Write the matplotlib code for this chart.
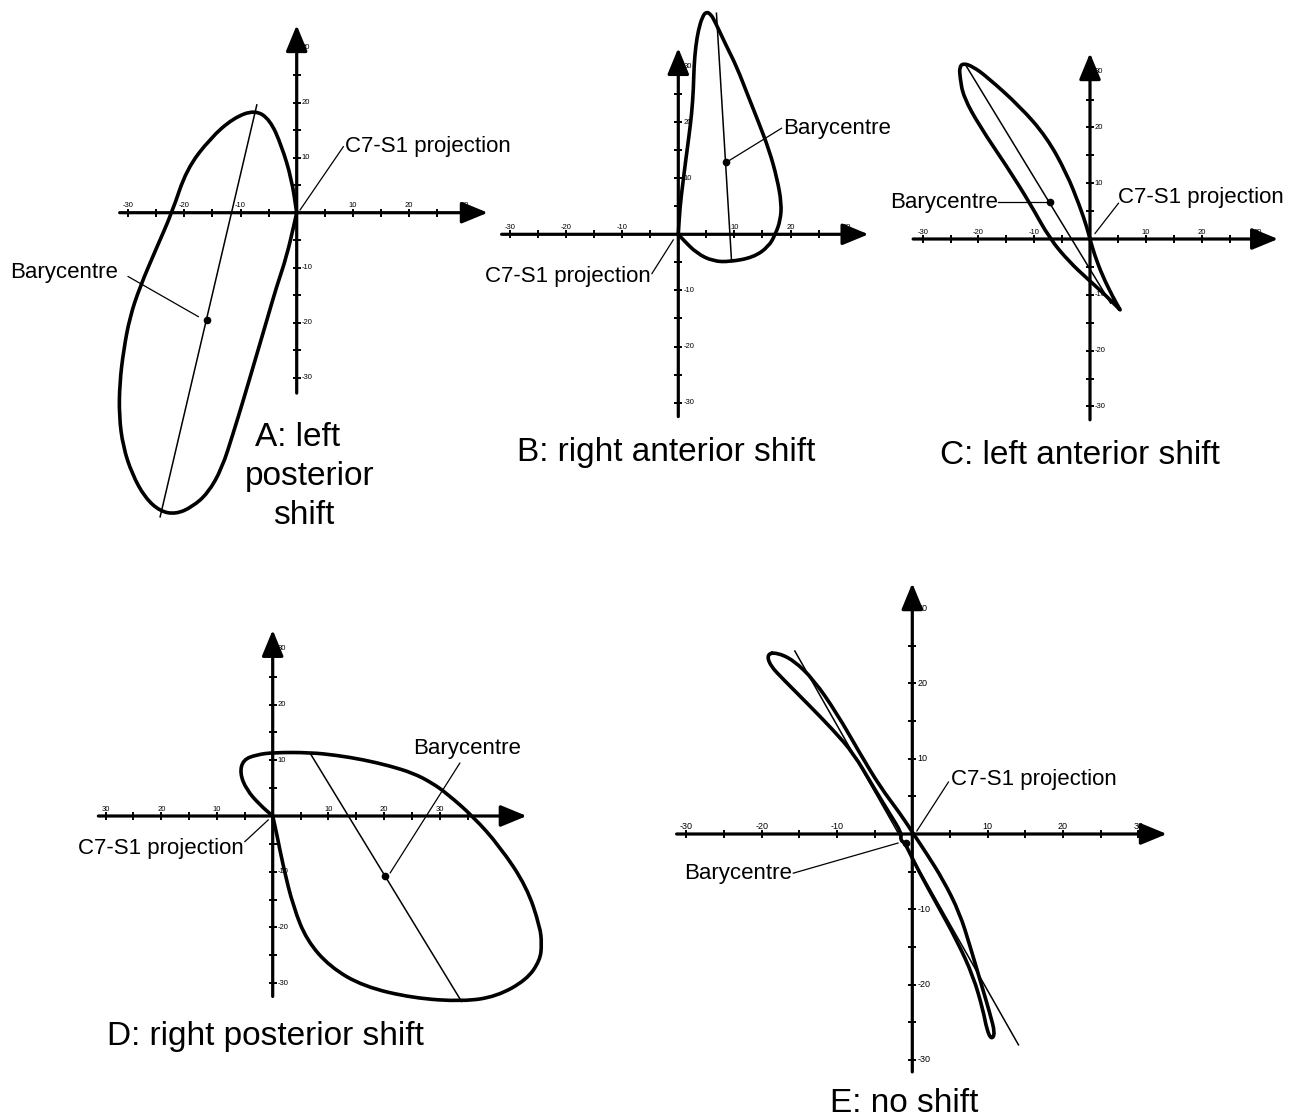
import matplotlib
matplotlib.use("Agg")
import matplotlib.pyplot as plt
from matplotlib.path import Path
from matplotlib.patches import PathPatch

W, H, DPI = 1296, 1118, 100
plt.rcParams['font.family'] = ['Liberation Sans', 'DejaVu Sans']

# ---------------- data (coordinates in the projection plane) ----------------
# Panel A : left posterior shift
A_loop_x = [0, -0.9, -2.7, -4.75, -7.4, -11.3, -15.4, -19.6, -22.2, -24.9, -27.9, -29.7,
            -30.8, -31.5, -31.6, -30.9, -29.3, -27.0, -24.3, -21.5, -18.6, -15.8, -13.3,
            -11.3, -9.5, -7.4, -5.3, -3.6, -1.8, -0.3, 0]
A_loop_y = [0, 6.1, 12.2, 16.9, 18.7, 17.2, 13.5, 7.9, 0, -6.3, -13.5, -19.0,
            -25.0, -31.0, -37.0, -42.5, -47.5, -51.8, -54.3, -54.8, -53.5, -51.0, -46.5,
            -40.1, -34.1, -26.8, -19.5, -13.5, -8.0, -1.4, 0]
A_axis_x = [-7.1, -24.3]
A_axis_y = [19.6, -55.3]
A_bary = (-16.0, -19.5)

# Panel B : right anterior shift
B_loop_x = [0, 0.3, 0.8, 1.3, 1.9, 2.4, 2.7, 2.8, 3.1, 3.6, 4.3, 5.0, 5.8, 6.5, 8.6, 10.4,
            12.5, 14.3, 16.2, 17.6, 18.4, 18.2, 17.3, 16.1, 13.4, 9.2, 6.2, 3.3, 0.9, 0]
B_loop_y = [0, 4.9, 9.0, 13.0, 17.5, 21.6, 26.0, 29.9, 33.5, 36.5, 38.8, 39.7, 39.2, 38.0, 33.5, 29.9,
            24.5, 20.0, 15.0, 10.0, 5.5, 2.5, 0, -2.2, -4.1, -4.9, -4.8, -3.4, -1.0, 0]
B_axis_x = [6.8, 9.5]
B_axis_y = [39.4, -4.9]
B_bary = (8.45, 12.9)

# Panel C : left anterior shift
C_loop_x = [0, -0.6, -1.8, -4.2, -7.8, -12.5, -18.5, -21.0, -22.7, -23.4, -23.3, -22.7, -19.7,
            -14.9, -10.75, -7.2, -3.6, -0.6, 2.5, 5.4, 4.0, 2.2, 0.8, 0]
C_loop_y = [0, 2.2, 5.8, 11.8, 18.3, 23.7, 29.1, 30.9, 31.5, 30.8, 29.0, 25.5, 20.1,
            13.0, 6.4, 0, -4.2, -7.0, -9.8, -12.7, -10.2, -6.5, -2.8, 0]
C_axis_x = [-22.3, 3.7]
C_axis_y = [31.2, -11.5]
C_bary = (-7.1, 6.7)

# Panel D : right posterior shift
D_loop_x = [0, -2.3, -4.7, -5.9, -5.3, -2.9, 0.1, 6.7, 11.5, 16.3, 21.0, 25.2, 28.5, 31.2, 36.0,
            40.8, 45.6, 48.0, 48.3, 48.0, 45.6, 40.2, 34.2, 25.2, 16.3, 10.3, 6.1, 3.7, 1.9, 0.7, 0]
D_loop_y = [0, 2.0, 4.7, 7.7, 10.1, 11.0, 11.4, 11.4, 10.9, 10.1, 9.0, 7.7, 6.0, 4.1, -0.1,
            -5.5, -12.7, -19.9, -23.0, -25.9, -29.4, -32.4, -33.3, -32.7, -30.6, -27.1, -22.3,
            -16.3, -9.1, -3.1, 0]
D_axis_x = [6.7, 33.9]
D_axis_y = [11.3, -33.3]
D_bary = (20.2, -10.8)

# Panel E : no shift
E_loop_x = [-19.3, -18.0, -15.8, -13.1, -10.0, -6.95, -4.3, -1.6, 0.1, 1.9, 4.1, 6.3, 7.7, 9.0,
            10.3, 11.0, 10.5, 9.9, 9.4, 8.1, 5.9, 3.2, 1.0, -0.3, -1.0, -1.6, -1.4, -3.0, -5.2,
            -7.8, -10.5, -14.0, -17.1, -18.9, -19.3]
E_loop_y = [23.9, 24.1, 23.1, 20.5, 16.0, 10.7, 6.3, 2.7, 0.1, -2.6, -6.1, -10.5, -15.0, -19.4,
            -23.8, -26.5, -27.3, -26.0, -23.4, -18.9, -14.1, -9.2, -5.2, -2.6, -1.2, -0.8, 0.1,
            2.7, 6.3, 10.7, 13.8, 17.4, 20.5, 22.4, 23.9]
E_axis_x = [-15.6, 14.1]
E_axis_y = [24.3, -28.0]
E_bary = (-0.8, -1.2)

tick_values = [-30, -25, -20, -15, -10, -5, 5, 10, 15, 20, 25, 30]
label_values = [-30, -20, -10, 10, 20, 30]
label_texts = ['-30', '-20', '-10', '10', '20', '30']
D_xlabel_texts = ['30', '20', '10', '10', '20', '30']

# ---------------- figure ----------------
fig = plt.figure(figsize=(W / DPI, H / DPI), dpi=DPI)
fig.patch.set_facecolor('white')


def make_ax(ox, oy, sx, sy, lim=(-60, 60, -60, 60)):
    x0, x1, y0, y1 = lim
    left = (ox + x0 * sx) / W
    width = (x1 - x0) * sx / W
    bottom = (H - (oy - y0 * sy)) / H
    height = (y1 - y0) * sy / H
    ax = fig.add_axes([left, bottom, width, height])
    ax.set_xlim(x0, x1)
    ax.set_ylim(y0, y1)
    ax.set_axis_off()
    ax.patch.set_alpha(0)
    return ax


def draw_axes(ax, xr, yr, xt, yt, fs, xtexts=None):
    ap = dict(arrowstyle='-|>,head_length=0.8,head_width=0.33', lw=2.3, color='k',
              mutation_scale=20, shrinkA=0, shrinkB=0)
    ax.annotate('', xy=(xr[1], 0), xytext=(xr[0], 0), arrowprops=ap, annotation_clip=False)
    ax.annotate('', xy=(0, yr[1]), xytext=(0, yr[0]), arrowprops=ap, annotation_clip=False)
    ax.plot(xt, [0] * len(xt), ls='none', marker='|', ms=6, mew=1.4, color='k', clip_on=False)
    ax.plot([0] * len(yt), yt, ls='none', marker='_', ms=6, mew=1.4, color='k', clip_on=False)
    xtexts = xtexts or label_texts
    for v, t in zip(label_values, xtexts):
        ax.annotate(t, (v, 0), xytext=(0, 2.5), textcoords='offset points', ha='center',
                    va='bottom', fontsize=fs, annotation_clip=False)
    for v, t in zip(label_values[::-1], label_texts[::-1]):
        ax.annotate(t, (0, v), xytext=(3.5, 0), textcoords='offset points', ha='left',
                    va='center', fontsize=fs, annotation_clip=False)


def smooth_loop(ax, xs, ys, corners=(), lw=2.6):
    """Closed outline drawn with quadratic Bezier segments (rendering only)."""
    pts = list(zip(xs, ys))
    if pts[0] == pts[-1]:
        pts = pts[:-1]
    seq = []
    for i, p in enumerate(pts):
        seq.append(p)
        if i in corners:
            seq.append(p)
    n = len(seq)
    mid = [((seq[i][0] + seq[(i + 1) % n][0]) / 2, (seq[i][1] + seq[(i + 1) % n][1]) / 2)
           for i in range(n)]
    verts = [mid[0]]
    codes = [Path.MOVETO]
    for i in range(1, n + 1):
        verts += [seq[i % n], mid[i % n]]
        codes += [Path.CURVE3, Path.CURVE3]
    ax.add_patch(PathPatch(Path(verts, codes), fill=False, lw=lw, ec='k',
                           joinstyle='round', capstyle='round', clip_on=False))


def draw_panel(ax, lx, ly, axx, axy, bary, corners=()):
    smooth_loop(ax, lx, ly, corners)
    ax.plot(axx, axy, color='k', lw=1.1, clip_on=False)
    ax.plot([bary[0]], [bary[1]], 'o', color='k', ms=4.5, clip_on=False)


def label(ax, x, y, s, ha='left'):
    ax.text(x, y, s, ha=ha, va='center', fontsize=16, clip_on=False)


def leader(ax, p, q):
    ax.plot([p[0], q[0]], [p[1], q[1]], color='k', lw=0.9, clip_on=False)


# Panel A
axA = make_ax(296.7, 212.7, 5.62, 5.5)
draw_axes(axA, (-31.5, 34.0), (-32.8, 34.1), tick_values, tick_values, 5.5)
draw_panel(axA, A_loop_x, A_loop_y, A_axis_x, A_axis_y, A_bary, corners=(0,))
label(axA, -51.0, -10.8, 'Barycentre')
leader(axA, (-30.0, -11.6), (-17.5, -18.9))
label(axA, 8.6, 12.1, 'C7-S1 projection')
leader(axA, (0.6, 0.5), (8.3, 12.0))

# Panel B
axB = make_ax(678.3, 234.3, 5.61, 5.61)
draw_axes(axB, (-31.5, 33.9), (-32.5, 33.2), tick_values, tick_values, 5.5)
draw_panel(axB, B_loop_x, B_loop_y, B_axis_x, B_axis_y, B_bary, corners=(0,))
label(axB, 18.7, 18.8, 'Barycentre')
leader(axB, (9.0, 13.1), (18.4, 18.9))
label(axB, -34.5, -7.6, 'C7-S1 projection')
leader(axB, (-4.7, -7.0), (-0.9, -1.0))

# Panel C
axC = make_ax(1090, 239, 5.58, 5.58)
draw_axes(axC, (-31.7, 33.7), (-32.4, 33.3), tick_values, tick_values, 5.5)
draw_panel(axC, C_loop_x, C_loop_y, C_axis_x, C_axis_y, C_bary, corners=(0, 19))
label(axC, -35.8, 6.6, 'Barycentre')
leader(axC, (-16.4, 6.7), (-7.8, 6.7))
label(axC, 5.0, 7.5, 'C7-S1 projection')
leader(axC, (0.9, 1.0), (5.1, 6.4))

# Panel D
axD = make_ax(272.7, 816, 5.57, 5.57)
draw_axes(axD, (-31.3, 45.6), (-32.4, 33.4), tick_values + [35], tick_values, 5.5, D_xlabel_texts)
draw_panel(axD, D_loop_x, D_loop_y, D_axis_x, D_axis_y, D_bary, corners=(0,))
label(axD, 25.2, 12.2, 'Barycentre')
leader(axD, (21.1, -10.2), (33.6, 9.5))
label(axD, -5.2, -5.9, 'C7-S1 projection', ha='right')
leader(axD, (-5.0, -4.6), (-0.8, -0.7))

# Panel E
axE = make_ax(912.3, 834, 7.53, 7.53)
draw_axes(axE, (-31.3, 33.8), (-31.6, 33.3), tick_values, tick_values, 6.5)
draw_panel(axE, E_loop_x, E_loop_y, E_axis_x, E_axis_y, E_bary)
label(axE, -16.0, -5.2, 'Barycentre', ha='right')
leader(axE, (-15.8, -5.2), (-1.9, -1.2))
label(axE, 5.2, 7.2, 'C7-S1 projection')
leader(axE, (0.6, 0.4), (4.8, 6.9))


# Panel titles
def ftext(x, y, s):
    fig.text(x / W, 1 - y / H, s, ha='left', va='center', fontsize=24)


ftext(255, 437, 'A: left')
ftext(245, 476, 'posterior')
ftext(273, 515, 'shift')
ftext(517, 452, 'B: right anterior shift')
ftext(940, 455, 'C: left anterior shift')
ftext(107, 1037, 'D: right posterior shift')
ftext(830, 1103, 'E: no shift')

fig.savefig('out.png', dpi=DPI)
